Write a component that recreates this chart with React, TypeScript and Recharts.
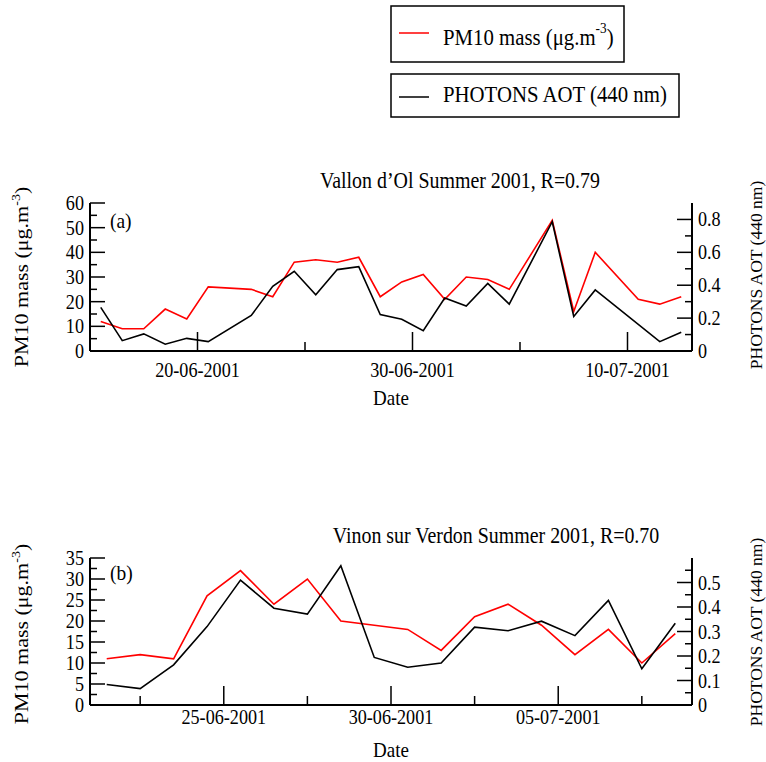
import { LineChart, Line, XAxis, YAxis, Customized } from 'recharts'

const FONT = '"Liberation Serif", "Times New Roman", Times, serif'
const SQUEEZE = 0.885

const PM_NAME = 'PM10 mass'
const AOT_NAME = 'PHOTONS AOT (440 nm)'
const PM_COLOR = '#ff0000'
const AOT_COLOR = '#000000'

// x = day counted from 1 June (July days are 30 + day), samples at noon
// panel (a) Vallon d'Ol
const topDays = [15.5, 16.5, 17.5, 18.5, 19.5, 20.5, 22.5, 23.5, 24.5, 25.5, 26.5, 27.5, 28.5, 29.5, 30.5, 31.5, 32.5, 33.5, 34.5, 36.5, 37.5, 38.5, 40.5, 41.5, 42.5]
const topPm = [12, 9, 9, 17, 13, 26, 25, 22, 36, 37, 36, 38, 22, 28, 31, 21, 30, 29, 25, 53, 16, 40, 21, 19, 22]
const topAot = [0.265, 0.063, 0.104, 0.041, 0.077, 0.057, 0.216, 0.393, 0.485, 0.342, 0.495, 0.513, 0.222, 0.193, 0.124, 0.322, 0.273, 0.411, 0.285, 0.786, 0.21, 0.371, null, 0.057, 0.114]
const topDateTicks = [20, 30, 40]
const topDateLabels = ['20-06-2001', '30-06-2001', '10-07-2001']
const topDateMinor = [25, 35]
const topPmTicks = [0, 10, 20, 30, 40, 50, 60]
const topPmMinor = [5, 15, 25, 35, 45, 55]
const topAotTicks = [0, 0.2, 0.4, 0.6, 0.8]
const topAotMinor = [0.1, 0.3, 0.5, 0.7]

// panel (b) Vinon sur Verdon
const botDays = [21.5, 22.5, 23.5, 24.5, 25.5, 26.5, 27.5, 28.5, 29.5, 30.5, 31.5, 32.5, 33.5, 34.5, 35.5, 36.5, 37.5, 38.5]
const botPm = [11, 12, 11, 26, 32, 24, 30, 20, 19, 18, 13, 21, 24, 19, 12, 18, 10, 17]
const botAot = [0.084, 0.067, 0.164, 0.32, 0.51, 0.395, 0.371, 0.568, 0.194, 0.154, 0.171, 0.318, 0.303, 0.342, 0.283, 0.427, 0.148, 0.334]
const botDateTicks = [25, 30, 35]
const botDateLabels = ['25-06-2001', '30-06-2001', '05-07-2001']
const botDateMinor = [22.5, 27.5, 32.5, 37.5]
const botPmTicks = [0, 5, 10, 15, 20, 25, 30, 35]
const botPmMinor = [2.5, 7.5, 12.5, 17.5, 22.5, 27.5, 32.5]
const botAotTicks = [0, 0.1, 0.2, 0.3, 0.4, 0.5]
const botAotMinor = [0.05, 0.15, 0.25, 0.35, 0.45, 0.55]

const topData = topDays.map((d, i) => ({ d, pm: topPm[i], aot: topAot[i] }))
const botData = botDays.map((d, i) => ({ d, pm: botPm[i], aot: botAot[i] }))

const same = (a: number, b: number) => Math.abs(a - b) < 1e-9

function HText({ x, y, size, anchor = 'start', children }: any) {
  return (
    <text
      transform={`translate(${x},${y}) scale(${SQUEEZE},1)`}
      fontFamily={FONT}
      fontSize={size}
      textAnchor={anchor}
      fill="#000"
    >
      {children}
    </text>
  )
}

function yTick(side: 'left' | 'right', majors: number[]) {
  return (props: any) => {
    const { x, y, payload } = props
    const v = payload.value
    const major = majors.some((m) => same(m, v))
    const dir = side === 'left' ? 1 : -1
    return (
      <g>
        <line x1={x} y1={y} x2={x + dir * (major ? 15 : 7)} y2={y} stroke="#000" strokeWidth={1.5} />
        {major && (
          <HText x={side === 'left' ? x - 6 : x + 6} y={y + 7} size={20.5} anchor={side === 'left' ? 'end' : 'start'}>
            {String(v)}
          </HText>
        )}
      </g>
    )
  }
}

function xTick(majors: number[], labels: string[], labelDy: number) {
  return (props: any) => {
    const { x, y, payload } = props
    const i = majors.findIndex((m) => same(m, payload.value))
    const major = i >= 0
    return (
      <g>
        <line x1={x} y1={y} x2={x} y2={y - (major ? 19 : 9)} stroke="#000" strokeWidth={1.5} />
        {major && (
          <HText x={x} y={y + labelDy} size={20.5} anchor="middle">
            {labels[i]}
          </HText>
        )}
      </g>
    )
  }
}

function SideTitles({ cyLeft, cyRight }: { cyLeft: number; cyRight: number }) {
  return (
    <g fill="#000">
      <text
        transform={`translate(28,${cyLeft}) rotate(-90) scale(1,0.85)`}
        fontFamily={FONT}
        fontSize={22}
        textAnchor="middle"
      >
        PM10 mass (μg.m<tspan dy={-9} fontSize={14}>-3</tspan>
        <tspan dy={9}>)</tspan>
      </text>
      <text transform={`translate(762,${cyRight}) rotate(-90)`} fontFamily={FONT} fontSize={17.5} textAnchor="middle">
        {AOT_NAME}
      </text>
    </g>
  )
}

function TopOverlay() {
  return (
    <g>
      <rect x={391} y={6} width={233} height={56} fill="none" stroke="#000" strokeWidth={1.5} />
      <line x1={399} y1={33} x2={429} y2={33} stroke={PM_COLOR} strokeWidth={1.5} />
      <HText x={443} y={45} size={23.5}>
        {PM_NAME} (μg.m<tspan dy={-12} fontSize={15}>-3</tspan>
        <tspan dy={12}>)</tspan>
      </HText>
      <rect x={391} y={74} width={288} height={43} fill="none" stroke="#000" strokeWidth={1.5} />
      <line x1={399} y1={97} x2={429} y2={97} stroke={AOT_COLOR} strokeWidth={1.5} />
      <HText x={443} y={102} size={23.5}>
        {AOT_NAME}
      </HText>
      <HText x={460} y={188} size={22.5} anchor="middle">
        Vallon d’Ol Summer 2001, R=0.79
      </HText>
      <HText x={110} y={228} size={22}>
        (a)
      </HText>
      <HText x={391} y={405} size={21.5} anchor="middle">
        Date
      </HText>
      <SideTitles cyLeft={277} cyRight={275} />
    </g>
  )
}

function BottomOverlay() {
  return (
    <g>
      <HText x={496} y={123} size={22.5} anchor="middle">
        Vinon sur Verdon Summer 2001, R=0.70
      </HText>
      <HText x={110} y={160} size={22}>
        (b)
      </HText>
      <HText x={391} y={337} size={21.5} anchor="middle">
        Date
      </HText>
      <SideTitles cyLeft={214} cyRight={212} />
    </g>
  )
}

const axisLine = { stroke: '#000', strokeWidth: 2 }

function Panel(props: any) {
  const { data, height, marginTop, xHeight, xDomain, dateTicks, dateLabels, dateMinor, labelDy, pmDomain, pmTicks, pmMinor, aotDomain, aotTicks, aotMinor, overlay } = props
  const xTicks = [...dateTicks, ...dateMinor].sort((a, b) => a - b)
  return (
    <LineChart width={766} height={height} data={data} margin={{ top: marginTop, right: 0, bottom: 0, left: 0 }}>
      <XAxis
        type="number"
        dataKey="d"
        domain={xDomain}
        ticks={xTicks}
        interval={0}
        height={xHeight}
        tickSize={0}
        tickMargin={0}
        tickLine={false}
        axisLine={axisLine}
        tick={xTick(dateTicks, dateLabels, labelDy)}
        allowDataOverflow
      />
      <XAxis
        xAxisId="top"
        orientation="top"
        type="number"
        dataKey="d"
        domain={xDomain}
        height={0}
        tick={false}
        tickLine={false}
        axisLine={axisLine}
        allowDataOverflow
      />
      <YAxis
        yAxisId="pm"
        domain={pmDomain}
        ticks={[...pmTicks, ...pmMinor].sort((a, b) => a - b)}
        interval={0}
        width={90}
        tickSize={0}
        tickMargin={0}
        tickLine={false}
        axisLine={axisLine}
        tick={yTick('left', pmTicks)}
        allowDataOverflow
      />
      <YAxis
        yAxisId="aot"
        orientation="right"
        domain={aotDomain}
        ticks={[...aotTicks, ...aotMinor].sort((a, b) => a - b)}
        interval={0}
        width={74}
        tickSize={0}
        tickMargin={0}
        tickLine={false}
        axisLine={axisLine}
        tick={yTick('right', aotTicks)}
        allowDataOverflow
      />
      <Line
        yAxisId="pm"
        type="linear"
        dataKey="pm"
        name={PM_NAME}
        stroke={PM_COLOR}
        strokeWidth={1.6}
        dot={false}
        activeDot={false}
        connectNulls
        isAnimationActive={false}
      />
      <Line
        yAxisId="aot"
        type="linear"
        dataKey="aot"
        name={AOT_NAME}
        stroke={AOT_COLOR}
        strokeWidth={1.6}
        dot={false}
        activeDot={false}
        connectNulls
        isAnimationActive={false}
      />
      <Customized component={overlay} />
    </LineChart>
  )
}

export default function App() {
  return (
    <div style={{ position: 'absolute', left: 0, top: 0, width: 766, height: 762, background: '#fff' }}>
      <div style={{ position: 'absolute', left: 0, top: 0 }}>
        <Panel
          data={topData}
          height={420}
          marginTop={203}
          xHeight={69}
          xDomain={[15, 43]}
          dateTicks={topDateTicks}
          dateLabels={topDateLabels}
          dateMinor={topDateMinor}
          labelDy={26}
          pmDomain={[0, 60]}
          pmTicks={topPmTicks}
          pmMinor={topPmMinor}
          aotDomain={[0, 0.9]}
          aotTicks={topAotTicks}
          aotMinor={topAotMinor}
          overlay={<TopOverlay />}
        />
      </div>
      <div style={{ position: 'absolute', left: 0, top: 420 }}>
        <Panel
          data={botData}
          height={342}
          marginTop={138}
          xHeight={57}
          xDomain={[21, 39]}
          dateTicks={botDateTicks}
          dateLabels={botDateLabels}
          dateMinor={botDateMinor}
          labelDy={18.5}
          pmDomain={[0, 35]}
          pmTicks={botPmTicks}
          pmMinor={botPmMinor}
          aotDomain={[0, 0.6]}
          aotTicks={botAotTicks}
          aotMinor={botAotMinor}
          overlay={<BottomOverlay />}
        />
      </div>
    </div>
  )
}
